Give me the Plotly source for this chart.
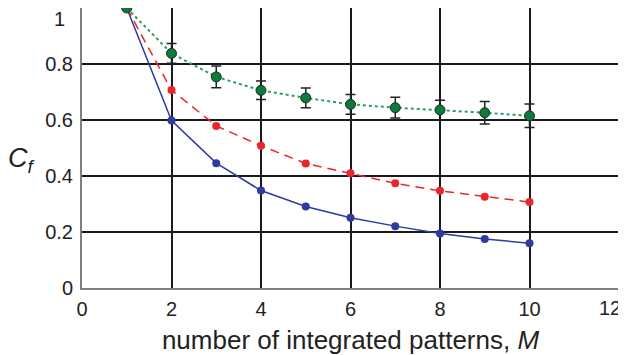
import plotly.graph_objects as go

M = [1, 2, 3, 4, 5, 6, 7, 8, 9, 10]
blue_vals = [1.0, 0.598, 0.446, 0.348, 0.291, 0.251, 0.221, 0.195, 0.175, 0.160]
red_vals = [1.0, 0.707, 0.579, 0.508, 0.445, 0.410, 0.374, 0.347, 0.326, 0.307]
green_vals = [1.0, 0.838, 0.754, 0.706, 0.679, 0.656, 0.644, 0.636, 0.626, 0.615]
green_err = [0.0, 0.035, 0.039, 0.033, 0.035, 0.035, 0.037, 0.035, 0.040, 0.042]
small_err = [0.0, 0.01, 0.008, 0.008, 0.008, 0.008, 0.006, 0.006, 0.006, 0.006]

x_ticks = [0, 2, 4, 6, 8, 10, 12]
x_tick_text = ["0", "2", "4", "6", "8", "10", "12"]
y_ticks = [0, 0.2, 0.4, 0.6, 0.8, 1]
y_tick_text = ["0", "0.2", "0.4", "0.6", "0.8", "1"]

FONT = "Liberation Sans, Arial, sans-serif"
TXT = "#222222"

fig = go.Figure()

fig.add_trace(go.Scatter(
    x=M, y=blue_vals, mode="lines+markers",
    line=dict(color="#2E3A9E", width=1.5, dash="solid"),
    marker=dict(color="#2E3A9E", size=8),
    error_y=dict(type="data", array=small_err, color="#2E3A9E", thickness=1, width=2),
    showlegend=False))

fig.add_trace(go.Scatter(
    x=M, y=red_vals, mode="lines+markers",
    line=dict(color="#E8262B", width=1.5, dash="9px,6px"),
    marker=dict(color="#E8262B", size=8),
    error_y=dict(type="data", array=small_err, color="#E8262B", thickness=1, width=2),
    showlegend=False))

fig.add_trace(go.Scatter(
    x=M, y=green_vals, mode="lines+markers",
    line=dict(color="#2E9E5E", width=2, dash="dot"),
    marker=dict(color="#0B7A3B", size=10, line=dict(color="#1F2F22", width=1)),
    error_y=dict(type="data", array=green_err, color="#222222", thickness=1.5, width=5),
    showlegend=False))

# Edge tick labels ("1" on y, "12" on x) are drawn inward as annotations, as in the reference.
x_axis_text = x_tick_text[:-1] + [""]
y_axis_text = y_tick_text[:-1] + [""]

# The page body has an 8px margin, so the figure is sized/offset to compensate.
fig.update_layout(
    width=618, height=347,
    margin=dict(l=74, r=7, t=0, b=67),
    paper_bgcolor="white", plot_bgcolor="white",
    font=dict(family=FONT, color=TXT),
    xaxis=dict(
        range=[0, 12.0001], tickmode="array", tickvals=x_ticks, ticktext=x_axis_text,
        showgrid=True, gridcolor="#1a1a1a", gridwidth=2,
        zeroline=False, showline=True, linecolor="#808080", linewidth=2,
        mirror=True, ticks="", tickfont=dict(size=20, family=FONT, color=TXT),
        ticklabelstandoff=2, automargin=False,
        title=dict(text="number of integrated patterns, <i>M</i>",
                   font=dict(size=26, family=FONT, color=TXT)),
    ),
    yaxis=dict(
        range=[0, 1.0001], tickmode="array", tickvals=y_ticks, ticktext=y_axis_text,
        showgrid=True, gridcolor="#1a1a1a", gridwidth=2,
        zeroline=False, showline=True, linecolor="#808080", linewidth=2,
        mirror=True, ticks="", tickfont=dict(size=20, family=FONT, color=TXT),
        ticklabelstandoff=3, automargin=False,
    ),
    shapes=[
        dict(type="line", xref="x", yref="paper", x0=12, x1=12, y0=0, y1=1,
             line=dict(color="#444444", width=2), layer="above"),
    ],
    annotations=[
        dict(text="<i>C<sub>f</sub></i>", xref="paper", yref="paper",
             x=-0.112, y=0.457, xanchor="center", yanchor="middle",
             showarrow=False, font=dict(size=27, family=FONT, color=TXT)),
        dict(text=y_tick_text[-1], xref="paper", yref="paper",
             x=-0.028, y=0.962, xanchor="right", yanchor="middle",
             showarrow=False, font=dict(size=20, family=FONT, color=TXT)),
        dict(text=x_tick_text[-1], xref="paper", yref="paper",
             x=0.984, y=-0.0714, xanchor="center", yanchor="middle",
             showarrow=False, font=dict(size=20, family=FONT, color=TXT)),
    ],
)

fig.write_html("out.html")
